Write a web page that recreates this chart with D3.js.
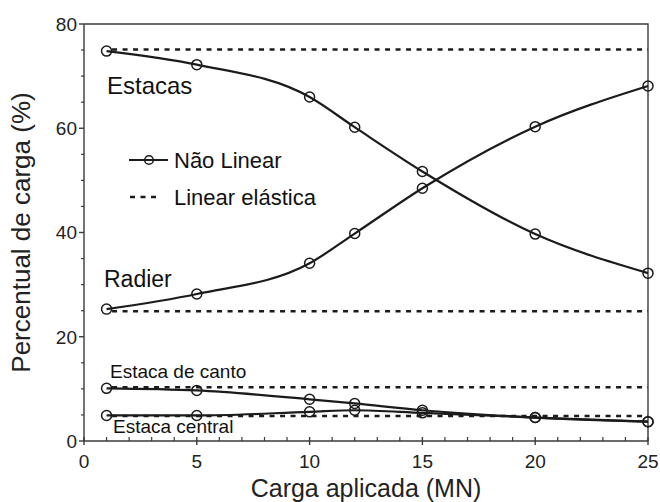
<!DOCTYPE html>
<html>
<head>
<meta charset="utf-8">
<script src="https://cdn.jsdelivr.net/npm/d3@7"></script>
<style>
  html, body { margin: 0; padding: 0; background: #fff; }
  svg { display: block; font-family: "Liberation Sans", Arial, sans-serif; }
</style>
</head>
<body>
<svg id="chart" width="660" height="502"></svg>
<script>
// Applied load (MN)
const loads = [1, 5, 10, 12, 15, 20, 25];

// Share of load (%) – nonlinear analysis
const estacas      = [74.8, 72.2, 66.0, 60.2, 51.7, 39.7, 32.2];
const radier       = [25.3, 28.2, 34.1, 39.8, 48.5, 60.3, 68.1];
const estacaCanto  = [10.1, 9.7, 8.0, 7.2, 5.9, 4.5, 3.7];
const estacaCentral = [4.9, 4.9, 5.6, 5.9, 5.4, 4.5, 3.7];

// Share of load (%) – linear elastic analysis
const linearElastica = [75.1, 24.9, 10.3, 4.8];

const xTicks = [0, 5, 10, 15, 20, 25];
const yTicks = [0, 20, 40, 60, 80];

const W = 660, H = 502;
const m = { left: 84, right: 12, top: 24, bottom: 61 };

const svg = d3.select("#chart");
const x = d3.scaleLinear().domain([0, 25]).range([m.left, W - m.right]);
const y = d3.scaleLinear().domain([0, 80]).range([H - m.bottom, m.top]);

const ink = "#1b1b1b";
const frame = "#3a3a3a";

// frame (top and right edges)
svg.append("path")
  .attr("d", `M${x(0)},${y(80)}H${x(25)}V${y(0)}`)
  .attr("fill", "none").attr("stroke", frame).attr("stroke-width", 1.4);

// x axis: major ticks cross the line, minor ticks inside
const xAxis = svg.append("g").attr("transform", `translate(0,${y(0)})`);
xAxis.append("line").attr("x1", x(0)).attr("x2", x(25)).attr("stroke", frame).attr("stroke-width", 1.4);
xAxis.selectAll(".minor").data(d3.range(0, 26).filter(v => v % 5 !== 0)).join("line")
  .attr("x1", d => x(d)).attr("x2", d => x(d)).attr("y1", 0).attr("y2", -4)
  .attr("stroke", frame).attr("stroke-width", 1.2);
xAxis.selectAll(".major").data(xTicks).join("line")
  .attr("x1", d => x(d)).attr("x2", d => x(d)).attr("y1", -4).attr("y2", 4)
  .attr("stroke", frame).attr("stroke-width", 1.4);
xAxis.selectAll("text").data(xTicks).join("text")
  .attr("x", d => x(d)).attr("y", 27)
  .attr("text-anchor", "middle").attr("font-size", 19).attr("fill", "#222")
  .text(d => d);

// y axis: ticks outside
const yAxis = svg.append("g").attr("transform", `translate(${x(0)},0)`);
yAxis.append("line").attr("y1", y(0)).attr("y2", y(80)).attr("stroke", frame).attr("stroke-width", 1.4);
yAxis.selectAll(".minor").data(d3.range(0, 81, 5).filter(v => v % 20 !== 0)).join("line")
  .attr("y1", d => y(d)).attr("y2", d => y(d)).attr("x1", 0).attr("x2", -3)
  .attr("stroke", frame).attr("stroke-width", 1.2);
yAxis.selectAll(".major").data(yTicks).join("line")
  .attr("y1", d => y(d)).attr("y2", d => y(d)).attr("x1", 0).attr("x2", -5)
  .attr("stroke", frame).attr("stroke-width", 1.4);
yAxis.selectAll("text").data(yTicks).join("text")
  .attr("x", -7).attr("y", d => y(d)).attr("dy", "0.36em")
  .attr("text-anchor", "end").attr("font-size", 19).attr("fill", "#222")
  .text(d => d);

// axis titles
svg.append("text")
  .attr("x", (x(0) + x(25)) / 2).attr("y", 497)
  .attr("text-anchor", "middle").attr("font-size", 25).attr("fill", "#222")
  .text("Carga aplicada (MN)");
svg.append("text")
  .attr("transform", `translate(30,${(y(0) + y(80)) / 2}) rotate(-90)`)
  .attr("text-anchor", "middle").attr("font-size", 26).attr("fill", "#222")
  .text("Percentual de carga (%)");

// linear elastic reference lines
const dash = "5,5.5";
svg.append("g").selectAll("line").data(linearElastica).join("line")
  .attr("x1", x(loads[0])).attr("x2", x(loads[loads.length - 1]))
  .attr("y1", d => y(d)).attr("y2", d => y(d))
  .attr("stroke", ink).attr("stroke-width", 2.6)
  .attr("stroke-dasharray", dash).attr("stroke-dashoffset", -5.5);

// nonlinear curves with open circle markers
const series = [estacas, radier, estacaCanto, estacaCentral];
const line = d3.line().x((d, i) => x(loads[i])).y(d => y(d)).curve(d3.curveMonotoneX);
const g = svg.append("g");
series.forEach(vals => {
  g.append("path").attr("d", line(vals))
    .attr("fill", "none").attr("stroke", ink).attr("stroke-width", 2.2);
  g.selectAll(null).data(vals).join("circle")
    .attr("cx", (d, i) => x(loads[i])).attr("cy", d => y(d)).attr("r", 5)
    .attr("fill", "none").attr("stroke", ink).attr("stroke-width", 1.5);
});

// series labels
const labels = [
  { t: "Estacas", x: 107, y: 94, s: 24 },
  { t: "Radier", x: 104, y: 287, s: 23 },
  { t: "Estaca de canto", x: 110, y: 378, s: 19 },
  { t: "Estaca central", x: 113, y: 433, s: 19 }
];
svg.append("g").selectAll("text").data(labels).join("text")
  .attr("x", d => d.x).attr("y", d => d.y).attr("font-size", d => d.s).attr("fill", "#111")
  .text(d => d.t);

// legend
const lg = svg.append("g");
lg.append("line").attr("x1", 129).attr("x2", 168).attr("y1", 160).attr("y2", 160)
  .attr("stroke", ink).attr("stroke-width", 2.2);
lg.append("circle").attr("cx", 149).attr("cy", 160).attr("r", 4.3)
  .attr("fill", "none").attr("stroke", ink).attr("stroke-width", 1.5);
lg.append("text").attr("x", 174).attr("y", 160).attr("dy", "0.36em")
  .attr("font-size", 22).attr("fill", "#111").text("Não Linear");
lg.append("line").attr("x1", 130).attr("x2", 160).attr("y1", 197).attr("y2", 197)
  .attr("stroke", ink).attr("stroke-width", 2.6).attr("stroke-dasharray", dash);
lg.append("text").attr("x", 174).attr("y", 197).attr("dy", "0.36em")
  .attr("font-size", 22).attr("fill", "#111").text("Linear elástica");
</script>
</body>
</html>
